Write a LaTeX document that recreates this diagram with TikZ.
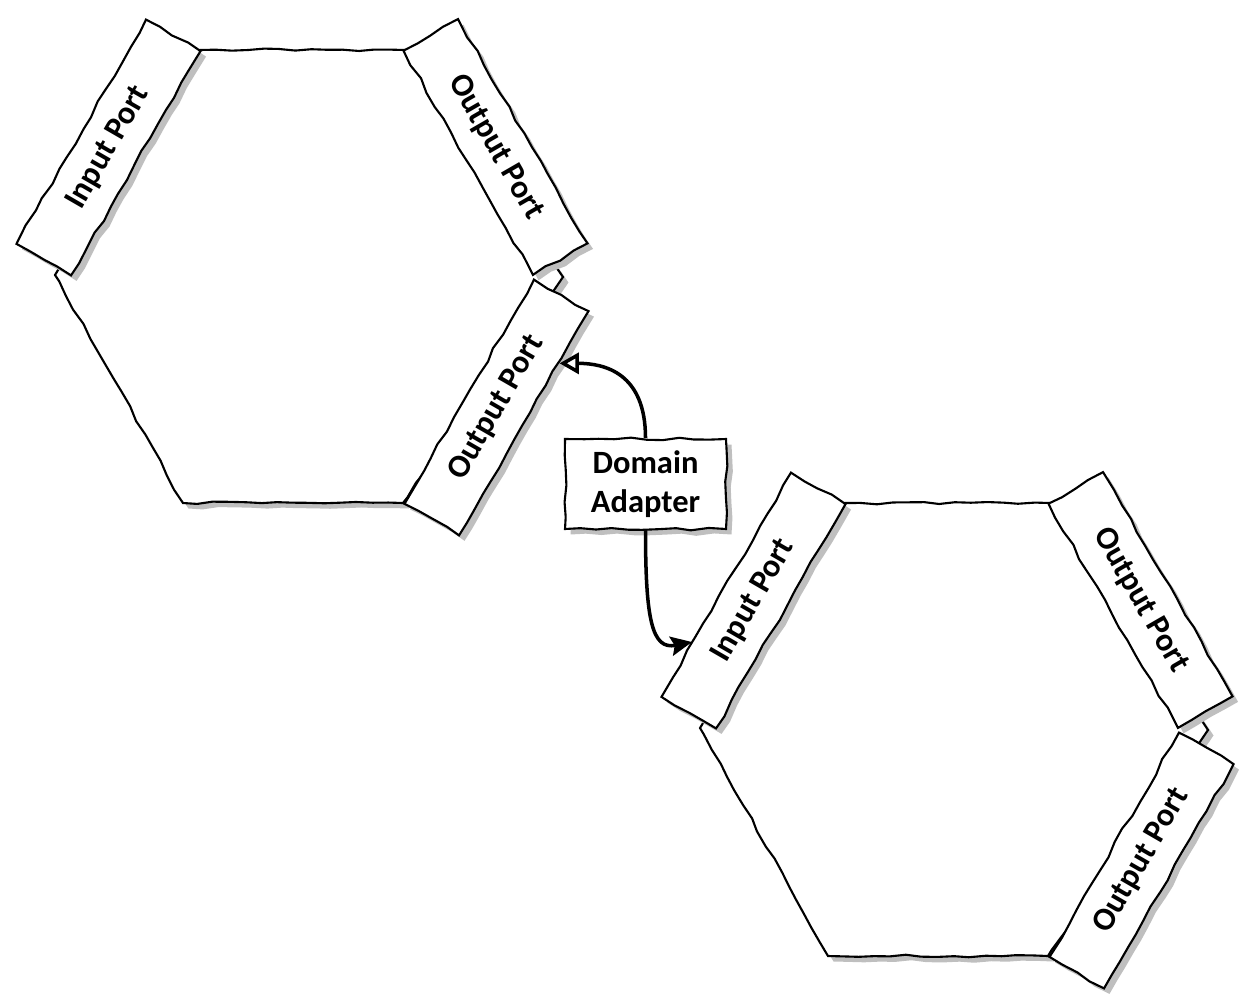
\documentclass[tikz,border=0pt]{standalone}
\usepackage{fontspec}
\setmainfont{Carlito}
\usetikzlibrary{arrows.meta,shadows,decorations.pathmorphing}

\begin{document}
\pgfmathsetseed{7}
\begin{tikzpicture}
    [x=0.02cm,y=-0.02cm,
     wavy/.style={decorate,decoration={random steps,segment length=9pt,amplitude=.8pt}},
     shade/.style={drop shadow={shadow xshift=.11cm,shadow yshift=-.11cm,fill=black!25,opacity=1}},
     port/.style={rectangle,draw=black,very thick,fill=white,wavy,shade,inner sep=0pt,minimum width=5.18cm,minimum height=1.26cm},
     every node/.style={font=\bfseries\fontsize{18.5}{22}\selectfont}]
    \useasboundingbox (0,0) rectangle (1247,1001);

    % first hexagon
    \draw[very thick,fill=white,wavy,shade] (200,50) -- (405,50) -- (563,277) -- (403,503) -- (183,503) -- (55,275) -- cycle;
    \node[port,rotate=60] (Ia) at (108.5,147.5) {Input Port};
    \node[port,rotate=-60] (Oa) at (495.5,147) {Output Port};
    \node[port,rotate=60] (Ob) at (496.5,407.5) {Output Port};

    % second hexagon
    \draw[very thick,fill=white,wavy,shade] (845,503) -- (1050,503) -- (1208,730) -- (1048,956) -- (828,956) -- (700,728) -- cycle;
    \node[port,rotate=60] (Ic) at (753.5,600.5) {Input Port};
    \node[port,rotate=-60] (Oc) at (1140.5,600) {Output Port};
    \node[port,rotate=60] (Od) at (1141.5,860.5) {Output Port};

    \node[rectangle,draw=black,very thick,fill=white,wavy,shade,align=center,inner sep=0pt,minimum width=3.22cm,minimum height=1.8cm] (Da) at (645.5,484) {Domain\\Adapter};
    \draw[line width=2pt,-{Triangle[open,length=11pt,width=12pt]}] (Da.north) .. controls +(0,-65) and +(45,0) .. (Ob.-25);
    \draw[line width=2pt,-{Stealth[length=12pt,width=11pt,inset=2pt]}] (Da.south) .. controls +(0,90) and +(-40,8) .. (Ic.154);
\end{tikzpicture}
\end{document}
